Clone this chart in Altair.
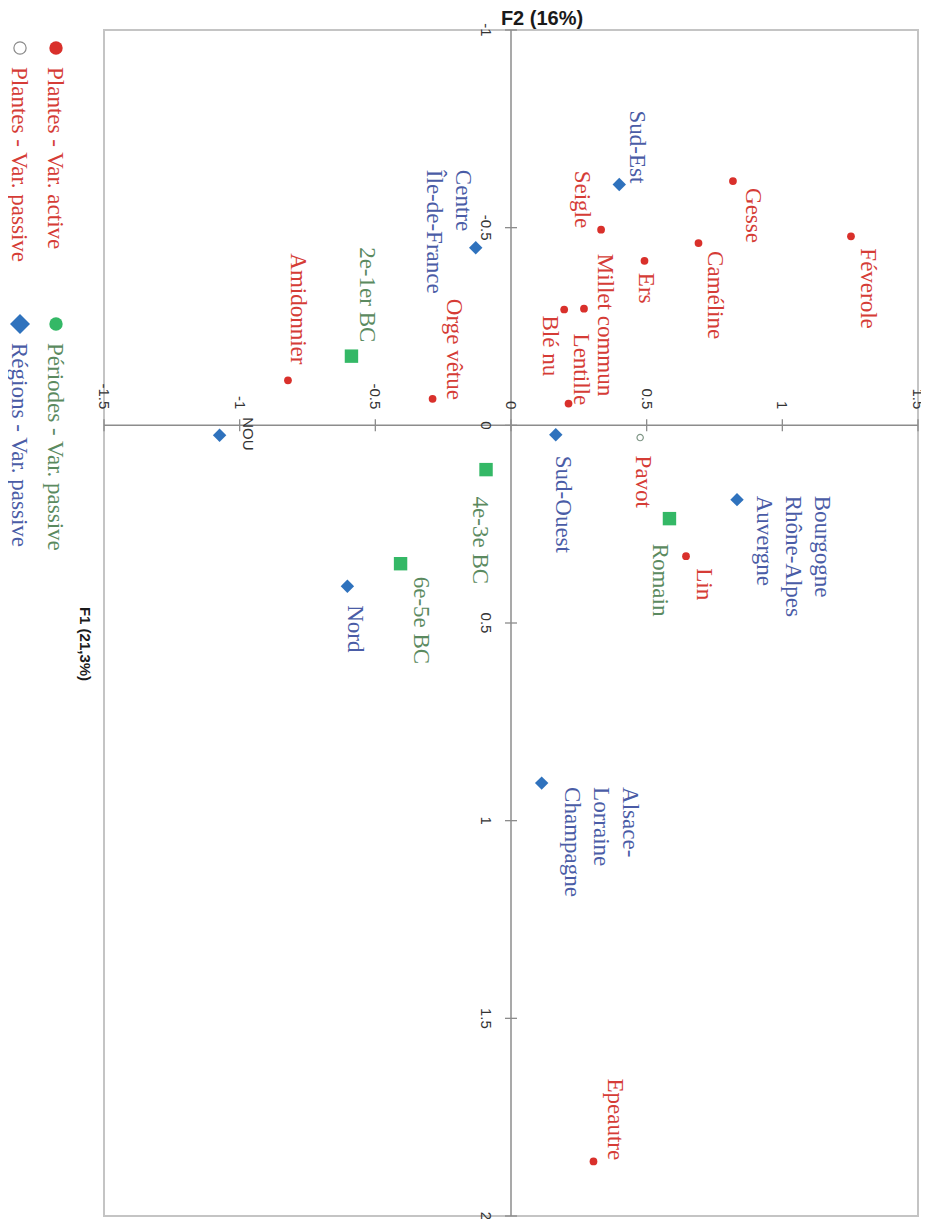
import altair as alt
import pandas as pd

# ---------------- data ----------------
plant_names = ["Féverole", "Gesse", "Caméline", "Ers", "Seigle", "Millet commun",
               "Blé nu", "Lentille", "Orge vêtue", "Amidonnier", "Lin", "Epeautre"]
plant_f1 = [-0.478, -0.618, -0.461, -0.416, -0.495, -0.295,
            -0.293, -0.055, -0.067, -0.114, 0.331, 1.862]
plant_f2 = [1.253, 0.818, 0.691, 0.492, 0.332, 0.269,
            0.196, 0.212, -0.289, -0.822, 0.645, 0.304]

passive_plant_names = ["Pavot"]
passive_plant_f1 = [0.031]
passive_plant_f2 = [0.476]

period_names = ["2e-1er BC", "4e-3e BC", "6e-5e BC", "Romain"]
period_f1 = [-0.175, 0.112, 0.350, 0.236]
period_f2 = [-0.588, -0.092, -0.407, 0.584]

region_names = ["Sud-Est", "Centre\nÎle-de-France", "NOU", "Sud-Ouest", "Nord",
                "Bourgogne\nRhône-Alpes\nAuvergne", "Alsace-\nLorraine\nChampagne"]
region_f1 = [-0.609, -0.449, 0.025, 0.024, 0.407, 0.188, 0.905]
region_f2 = [0.399, -0.130, -1.074, 0.165, -0.603, 0.833, 0.113]

f1_ticks = [-1, -0.5, 0, 0.5, 1, 1.5, 2]
f1_tick_labels = ["-1", "-0.5", "0", "0.5", "1", "1.5", "2"]
f2_ticks = [-1.5, -1, -0.5, 0, 0.5, 1, 1.5]
f2_tick_labels = ["-1.5", "-1", "-0.5", "0", "0.5", "1", "1.5"]

legend_labels = ["Plantes - Var. active", "Plantes - Var. passive",
                 "Périodes - Var. passive", "Régions - Var. passive"]

f1_title = "F1 (21,3%)"
f2_title = "F2 (16%)"

# ---------------- layout / style ----------------
W, H = 814, 1186
F2_DOMAIN = [-1.5, 1.5]
F1_DOMAIN = [-1.0, 2.0]
PX_F2 = W / (F2_DOMAIN[1] - F2_DOMAIN[0])
PX_F1 = H / (F1_DOMAIN[1] - F1_DOMAIN[0])

RED = "#d9302b"
RED_TXT = "#d53c36"
BLUE = "#2f72bd"
BLUE_TXT = "#4a5ca6"
GREEN = "#34b866"
GREEN_TXT = "#5b8a5f"
HOLLOW = "#7f9686"
AXIS = "#8c8c8c"

SERIF = "Liberation Serif"
SANS = "Liberation Sans"

# label nudges in pixels: (horizontal shift of first text line, vertical shift of text start)
label_nudge = {
    "Féverole": (17, 12), "Gesse": (20, 7), "Caméline": (17, 8), "Ers": (2, 12),
    "Seigle": (-19, -59), "Millet commun": (21, -55), "Blé nu": (-14, 6),
    "Lentille": (12, -70), "Orge vêtue": (21, -100), "Amidonnier": (10, -127),
    "Lin": (18, 12), "Epeautre": (22, -83), "Pavot": (3, 18),
    "2e-1er BC": (16, -109), "4e-3e BC": (-6, 27), "6e-5e BC": (20, 13), "Romain": (-9, 25),
    "Sud-Est": (18, -74), "Centre\nÎle-de-France": (-13, -78), "NOU": (28, -18),
    "Sud-Ouest": (7, 21), "Nord": (8, 19),
    "Bourgogne\nRhône-Alpes\nAuvergne": (85, -4),
    "Alsace-\nLorraine\nChampagne": (88, 4),
}


def frame(names, f1, f2):
    df = pd.DataFrame({"name": names, "f1": f1, "f2": f2})
    df["lx"] = df["f2"] + df["name"].map(lambda n: label_nudge[n][0]) / PX_F2
    df["ly"] = df["f1"] + df["name"].map(lambda n: label_nudge[n][1]) / PX_F1
    return df


def X(field):
    return alt.X(field, type="quantitative",
                 scale=alt.Scale(domain=F2_DOMAIN, nice=False, zero=False), axis=None)


def Y(field):
    return alt.Y(field, type="quantitative",
                 scale=alt.Scale(domain=F1_DOMAIN, nice=False, zero=False, reverse=True),
                 axis=None)


plants = frame(plant_names, plant_f1, plant_f2)
passive = frame(passive_plant_names, passive_plant_f1, passive_plant_f2)
periods = frame(period_names, period_f1, period_f2)
regions = frame(region_names, region_f1, region_f2)
regions_serif = regions[regions["name"] != "NOU"]
regions_sans = regions[regions["name"] == "NOU"]

label_style = dict(angle=90, align="left", baseline="middle", font=SERIF,
                   fontSize=23, lineBreak="\n", lineHeight=29)

# ---------------- axes through the origin ----------------
hline = pd.DataFrame({"a": [F2_DOMAIN[0]], "b": [F2_DOMAIN[1]], "c": [0.0]})
vline = pd.DataFrame({"a": [F1_DOMAIN[0]], "b": [F1_DOMAIN[1]], "c": [0.0]})

h_rule = alt.Chart(hline).mark_rule(color=AXIS, strokeWidth=1.5).encode(
    x=X("a"), x2="b", y=Y("c"))
v_rule = alt.Chart(vline).mark_rule(color=AXIS, strokeWidth=1.5).encode(
    y=Y("a"), y2="b", x=X("c"))

f2_tick_df = pd.DataFrame({"v": f2_ticks, "lab": f2_tick_labels, "zero": 0.0})
f1_tick_df = pd.DataFrame({"v": f1_ticks, "lab": f1_tick_labels, "zero": 0.0})

f2_tick_marks = alt.Chart(f2_tick_df).mark_tick(
    orient="vertical", size=12, thickness=1.3, color=AXIS, opacity=1).encode(
    x=X("v"), y=Y("zero"))
f1_tick_marks = alt.Chart(f1_tick_df).mark_tick(
    orient="horizontal", size=12, thickness=1.3, color=AXIS, opacity=1).encode(
    x=X("zero"), y=Y("v"))

f2_tick_text = alt.Chart(f2_tick_df).mark_text(
    angle=90, align="right", baseline="middle", font=SANS, fontSize=15,
    color="#333333", yOffset=-16).encode(x=X("v"), y=Y("zero"), text="lab:N")
f1_tick_text = alt.Chart(f1_tick_df).mark_text(
    angle=90, align="center", baseline="middle", font=SANS, fontSize=15,
    color="#333333", xOffset=-25).encode(x=X("zero"), y=Y("v"), text="lab:N")

# ---------------- data marks ----------------
plant_pts = alt.Chart(plants).mark_circle(size=60, color=RED, opacity=1).encode(
    x=X("f2"), y=Y("f1"))
plant_txt = alt.Chart(plants).mark_text(color=RED_TXT, **label_style).encode(
    x=X("lx"), y=Y("ly"), text="name:N")

passive_pts = alt.Chart(passive).mark_point(
    shape="circle", size=40, color=HOLLOW, strokeWidth=1.2, filled=False, opacity=1).encode(
    x=X("f2"), y=Y("f1"))
passive_txt = alt.Chart(passive).mark_text(color=RED_TXT, **label_style).encode(
    x=X("lx"), y=Y("ly"), text="name:N")

period_pts = alt.Chart(periods).mark_square(size=180, color=GREEN, opacity=1).encode(
    x=X("f2"), y=Y("f1"))
period_txt = alt.Chart(periods).mark_text(color=GREEN_TXT, **label_style).encode(
    x=X("lx"), y=Y("ly"), text="name:N")

region_pts = alt.Chart(regions).mark_point(
    shape="diamond", size=180, color=BLUE, filled=True, opacity=1).encode(
    x=X("f2"), y=Y("f1"))
region_txt = alt.Chart(regions_serif).mark_text(color=BLUE_TXT, **label_style).encode(
    x=X("lx"), y=Y("ly"), text="name:N")
region_txt_nou = alt.Chart(regions_sans).mark_text(
    angle=90, align="left", baseline="middle", font=SANS, fontSize=15,
    color="#333333").encode(x=X("lx"), y=Y("ly"), text="name:N")

# ---------------- titles ----------------
title_f2 = alt.Chart(pd.DataFrame({"t": [f2_title]})).mark_text(
    font=SANS, fontSize=20, fontWeight="bold", color="#1a1a1a",
    align="center", baseline="middle").encode(
    x=alt.value(438), y=alt.value(-11), text="t:N")
title_f1 = alt.Chart(pd.DataFrame({"t": [f1_title]})).mark_text(
    font=SANS, fontSize=15, fontWeight="bold", color="#1a1a1a", angle=90,
    align="center", baseline="middle").encode(
    x=alt.value(-19), y=alt.value(614), text="t:N")

# ---------------- legend (2 x 2, rotated) ----------------
legend_cols = [0, 1, 0, 1]
legend_rows = [0, 0, 1, 1]
legend_marker = [
    dict(shape="circle", filled=True, color=RED, size=180),
    dict(shape="circle", filled=False, color="#8a8a8a", size=150, strokeWidth=1.2),
    dict(shape="circle", filled=True, color=GREEN, size=180),
    dict(shape="diamond", filled=True, color=BLUE, size=400),
]
legend_text_color = [RED_TXT, RED_TXT, GREEN_TXT, BLUE_TXT]
col_x = [-48, -84]
row_y = [18, 294]

legend_layers = []
for lab, c, r, mk, tc in zip(legend_labels, legend_cols, legend_rows,
                             legend_marker, legend_text_color):
    d = pd.DataFrame({"label": [lab]})
    legend_layers.append(
        alt.Chart(d).mark_point(opacity=1, **mk).encode(
            x=alt.value(col_x[c]), y=alt.value(row_y[r])))
    legend_layers.append(
        alt.Chart(d).mark_text(angle=90, align="left", baseline="middle",
                               font=SERIF, fontSize=23, color=tc).encode(
            x=alt.value(col_x[c] - 1), y=alt.value(row_y[r] + 19), text="label:N"))

chart = alt.layer(
    h_rule, v_rule, f2_tick_marks, f1_tick_marks, f2_tick_text, f1_tick_text,
    plant_pts, passive_pts, period_pts, region_pts,
    plant_txt, passive_txt, period_txt, region_txt, region_txt_nou,
    title_f2, title_f1, *legend_layers
).properties(
    width=W, height=H,
    padding={"left": 96, "top": 22, "right": 3, "bottom": 3},
    autosize=alt.AutoSizeParams(type="none"),
    background="white",
).configure_view(stroke="#c4c4c4", strokeWidth=2)

chart.save("out.html", embed_options={"renderer": "svg", "actions": False})
